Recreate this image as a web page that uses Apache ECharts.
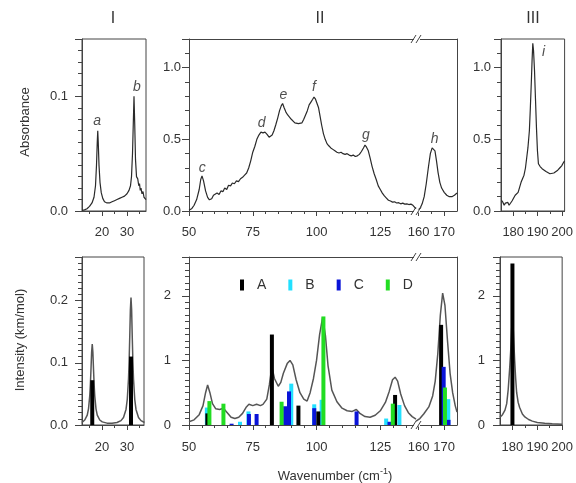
<!DOCTYPE html>
<html><head><meta charset="utf-8">
<script src="https://cdn.jsdelivr.net/npm/echarts@6/dist/echarts.min.js"></script>
<style>html,body{margin:0;padding:0;background:#fff}#c{width:576px;height:483px}</style>
</head><body><div id="c"></div>
<script>
// ---------- DATA ----------
// Experimental absorbance (top row)
const absI = [[12,0.0005],[13,0.001],[14,0.002],[15,0.004],[16,0.007],[16.8,0.012],[17.4,0.022],[17.8,0.04],[18.1,0.06],[18.3,0.07],[18.5,0.06],[18.8,0.04],[19.2,0.025],[19.7,0.016],[20.3,0.011],[21,0.008],[22,0.007],[23,0.007],[24,0.008],[25,0.009],[26,0.01],[27,0.011],[28,0.012],[29,0.013],[30,0.015],[30.8,0.018],[31.4,0.022],[31.8,0.03],[32.2,0.05],[32.5,0.075],[32.8,0.1],[33.1,0.075],[33.4,0.045],[33.8,0.03],[34.3,0.028],[34.7,0.022],[35,0.024],[35.3,0.018],[35.6,0.02],[36,0.015],[36.4,0.017],[36.8,0.012],[37.2,0.011],[37.6,0.01]];
const absIIlo = [[50,0.005],[51,0.015],[52,0.04],[53,0.08],[54,0.15],[54.6,0.22],[55.1,0.245],[55.7,0.21],[56.5,0.14],[57.3,0.095],[58,0.078],[58.9,0.085],[59.6,0.11],[60.3,0.1],[61,0.125],[61.8,0.115],[62.5,0.14],[63.3,0.135],[64,0.16],[64.8,0.15],[65.5,0.18],[66.3,0.175],[67,0.195],[67.8,0.19],[68.6,0.21],[69.4,0.205],[70.2,0.225],[71,0.235],[71.8,0.25],[72.6,0.265],[73.4,0.3],[74.2,0.35],[75,0.41],[75.8,0.45],[76.6,0.5],[77.4,0.53],[78.2,0.55],[79,0.545],[79.8,0.55],[80.6,0.535],[81.4,0.515],[82,0.51],[82.6,0.53],[83.3,0.56],[84,0.6],[84.8,0.65],[85.5,0.7],[86.2,0.735],[86.7,0.75],[87.3,0.72],[88,0.69],[88.7,0.67],[89.4,0.655],[90.1,0.64],[90.8,0.63],[91.5,0.615],[92.2,0.625],[92.9,0.61],[93.6,0.62],[94.3,0.615],[95,0.64],[95.7,0.67],[96.4,0.7],[97.1,0.74],[97.8,0.76],[98.5,0.78],[99,0.795],[99.6,0.78],[100.2,0.77],[100.8,0.72],[101.4,0.66],[102,0.6],[102.7,0.54],[103.4,0.5],[104.1,0.47],[104.8,0.455],[105.6,0.44],[106.4,0.43],[107.2,0.42],[108,0.41],[108.8,0.405],[109.6,0.41],[110.4,0.4],[111.2,0.395],[112,0.4],[112.8,0.39],[113.6,0.385],[114.4,0.39],[115.2,0.38],[116,0.385],[116.8,0.395],[117.6,0.415],[118.4,0.44],[119,0.46],[119.6,0.445],[120.3,0.42],[121,0.37],[121.8,0.31],[122.6,0.26],[123.4,0.22],[124.2,0.175],[125,0.15],[125.8,0.125],[126.6,0.105],[127.4,0.09],[128.2,0.075],[129,0.07],[129.8,0.062],[130.6,0.064],[131.4,0.056],[132.2,0.058],[133,0.05],[133.8,0.055],[134.6,0.048],[135.4,0.05],[136.2,0.045],[137,0.048],[137.8,0.04],[138.5,0.03],[139,0.015]];
const absIIhi = [[159,0.0],[159.8,0.005],[160.6,0.02],[161.4,0.05],[162.2,0.1],[163,0.19],[163.8,0.3],[164.6,0.4],[165.3,0.44],[165.8,0.45],[166.4,0.42],[167,0.35],[167.6,0.27],[168.3,0.2],[169,0.16],[170,0.13],[171,0.11],[172,0.1],[173,0.1],[174,0.11],[175,0.125]];
const absIII = [[175.2,0.075],[175.8,0.06],[176.3,0.04],[176.8,0.055],[177.3,0.045],[177.8,0.06],[178.3,0.04],[178.9,0.05],[179.5,0.07],[180.2,0.08],[180.8,0.11],[181.4,0.1],[182,0.13],[182.6,0.14],[183.2,0.2],[183.8,0.225],[184.4,0.25],[185,0.3],[185.5,0.37],[186,0.44],[186.6,0.56],[187,0.72],[187.4,0.9],[187.7,1.05],[188,1.17],[188.3,1.12],[188.7,0.98],[189.1,0.78],[189.5,0.58],[189.9,0.42],[190.3,0.33],[191,0.31],[191.8,0.295],[192.6,0.285],[193.4,0.275],[194.2,0.27],[195,0.26],[195.8,0.255],[196.6,0.265],[197.4,0.27],[198.2,0.285],[199,0.3],[199.8,0.315],[200.6,0.34],[201,0.35]];
// Calculated spectra (bottom row)
const calcI = [[12,0.004],[13.1,0.008],[14.1,0.016],[14.6,0.026],[15.1,0.047],[15.35,0.065],[15.6,0.09],[15.85,0.117],[16.1,0.13],[16.35,0.117],[16.6,0.09],[16.85,0.065],[17.1,0.047],[17.6,0.026],[18.1,0.016],[19.1,0.008],[20.1,0.005],[22,0.003],[24,0.003],[26,0.004],[27.6,0.007],[28.6,0.012],[29.6,0.025],[30.1,0.041],[30.6,0.074],[30.85,0.1025],[31.1,0.142],[31.35,0.185],[31.6,0.205],[31.85,0.185],[32.1,0.142],[32.35,0.1025],[32.6,0.074],[33.1,0.041],[33.6,0.025],[34.6,0.012],[35.6,0.007],[37,0.004]];
const calcIIlo = [[50,0.05],[52,0.08],[54,0.16],[55.5,0.3],[56.5,0.5],[57.3,0.62],[58.2,0.5],[59.2,0.33],[60.5,0.25],[62,0.24],[63.5,0.26],[65,0.19],[66.5,0.12],[68,0.1],[69.5,0.12],[71,0.18],[72.5,0.28],[73.5,0.32],[75,0.3],[76.5,0.32],[78,0.3],[79,0.32],[80.5,0.4],[81.5,0.62],[82.5,0.9],[83.5,0.72],[85,0.6],[86,0.66],[87,0.8],[88.5,0.95],[89.6,1.0],[90.7,0.93],[92,0.7],[93.5,0.5],[95,0.4],[96.3,0.37],[97.5,0.5],[98.8,0.72],[100,1.0],[101.2,1.4],[102.4,1.67],[103.5,1.38],[104.5,0.92],[106,0.54],[108,0.36],[110,0.26],[112,0.22],[114,0.21],[115.6,0.24],[117,0.18],[119,0.13],[121,0.12],[123,0.15],[125,0.22],[127,0.35],[128.5,0.52],[129.8,0.7],[130.8,0.74],[131.8,0.68],[133,0.48],[134.5,0.3],[136,0.19],[137.5,0.13],[139,0.09]];
const calcIIhi = [[159,0.06],[160.5,0.1],[162,0.17],[164,0.28],[165.5,0.45],[166.5,0.68],[167.5,1.1],[168.5,1.7],[169.4,2.04],[170.3,1.85],[171.3,1.3],[172.3,0.8],[173.3,0.5],[174.3,0.3],[175,0.2]];
const calcIII = [[175,0.12],[176,0.16],[177,0.23],[177.7,0.33],[178.3,0.55],[178.9,0.88],[179.3,1.15],[179.7,1.5],[180,1.65],[180.3,1.5],[180.6,1.25],[180.9,1.0],[181.3,0.72],[181.7,0.5],[182.3,0.35],[182.9,0.27],[184,0.17],[185,0.125],[186.5,0.085],[188,0.06],[190,0.04],[193,0.026],[196,0.018],[200,0.012]];
// Stick spectra: A, B, C, D
const A_I = [[16.1,0.072],[31.6,0.11]];
const A_IIlo = [[57.2,0.18],[82.5,1.4],[92.9,0.3],[100.7,0.21],[130.8,0.465]];
const A_IIhi = [[168.8,1.55]];
const A_III = [[180,2.5]];
const B_IIlo = [[57,0.27],[70,0.05],[73.3,0.21],[90.1,0.64],[99.1,0.32],[102,0.39],[127.3,0.1],[132.5,0.31]];
const B_IIhi = [[171.6,0.4]];
const C_IIlo = [[66.7,0.02],[73.5,0.17],[76.5,0.17],[87.7,0.29],[89.2,0.52],[99.1,0.26],[115.7,0.21],[128.6,0.05]];
const C_IIhi = [[169.8,0.9],[171.7,0.08]];
const D_IIlo = [[58,0.37],[63.5,0.33],[86.3,0.36],[102.7,1.68],[129.9,0.33]];
const D_IIhi = [[170.3,0.58]];
// Peak labels
const peaksI = [{value:[18.1,0.078],name:'a'},{value:[34,0.108],name:'b'}];
const peaksIIlo = [{value:[55.2,0.3],name:'c'},{value:[78.5,0.615],name:'d'},{value:[87,0.81],name:'e'},{value:[99,0.865],name:'f'},{value:[119.4,0.53],name:'g'}];
const peaksIIhi = [{value:[166.3,0.5],name:'h'}];
const peaksIII = [{value:[192.4,1.11],name:'i'}];
// Tick labels
const ticksI = [20,30], minorI = [15,25,35];
const ticksIIlo = [50,75,100,125], minorIIlo = [55,60,65,70,80,85,90,95,105,110,115,120,130,135];
const ticksIIhi = [160,170], minorIIhi = [165];
const ticksIII = [180,190,200], minorIII = [185,195];
const seriesNames = ['A','B','C','D'];
const seriesColors = {A:'#000000', B:'#22e0ff', C:'#0a14d8', D:'#22dd22'};

// ---------- BUILD ----------
const FONT = 'Liberation Sans, Arial, sans-serif';
const AX = '#444', TXT = '#333';
const grids = [], xAxis = [], yAxis = [], series = [];
function grid(l,t,w,h,border){grids.push({left:l,top:t,width:w,height:h,show:border,borderColor:AX,borderWidth:1,backgroundColor:'transparent'});return grids.length-1;}
function xAx(g,min,max,major,minor,margin){
  const i = xAxis.length;
  xAxis.push({type:'value',gridIndex:g,min,max,position:'bottom',
    axisLine:{show:true,onZero:false,lineStyle:{color:AX,width:1}},
    axisTick:{show:true,inside:false,length:5,customValues:major,lineStyle:{color:AX}},
    axisLabel:{show:true,customValues:major,margin,fontSize:13,color:TXT,fontFamily:FONT},
    splitLine:{show:false}});
  xAxis.push({type:'value',gridIndex:g,min,max,position:'bottom',
    axisLine:{show:false},axisTick:{show:true,inside:false,length:3,customValues:minor,lineStyle:{color:AX}},
    axisLabel:{show:false},splitLine:{show:false}});
  return i;
}
function xTop(g,min,max){xAxis.push({type:'value',gridIndex:g,min,max,position:'top',axisLine:{show:true,onZero:false,lineStyle:{color:AX}},axisTick:{show:false},axisLabel:{show:false},splitLine:{show:false}});}
function yAx(g,max,interval,split,margin,dec){
  const i = yAxis.length;
  yAxis.push({type:'value',gridIndex:g,min:0,max,interval,position:'left',
    axisLine:{show:true,onZero:false,lineStyle:{color:AX}},
    axisTick:{show:true,inside:false,length:7,lineStyle:{color:AX}},
    minorTick:{show:true,splitNumber:split,length:4,lineStyle:{color:AX}},
    axisLabel:{margin,fontSize:13,color:TXT,fontFamily:FONT,
      formatter:v=>{const r=v/interval;return Math.abs(r-Math.round(r))<1e-6?v.toFixed(dec):'';}},
    splitLine:{show:false},minorSplitLine:{show:false}});
  return i;
}
function yRight(g,max){const i=yAxis.length;yAxis.push({type:'value',gridIndex:g,min:0,max,position:'right',axisLine:{show:true,onZero:false,lineStyle:{color:AX}},axisTick:{show:false},axisLabel:{show:false},splitLine:{show:false}});return i;}
function line(xi,yi,data,color,w){series.push({type:'line',xAxisIndex:xi,yAxisIndex:yi,data,symbol:'none',smooth:false,lineStyle:{color,width:w},z:2,silent:true});}
function bar(name,xi,yi,data){series.push({type:'bar',name,xAxisIndex:xi,yAxisIndex:yi,data,barWidth:4,barGap:'-100%',itemStyle:{color:seriesColors[name]},z:3});}
function labels(xi,yi,data){series.push({type:'scatter',xAxisIndex:xi,yAxisIndex:yi,data,symbolSize:1,itemStyle:{color:'rgba(0,0,0,0)'},z:5,
  label:{show:true,position:'inside',formatter:p=>p.name,fontSize:14,fontStyle:'italic',color:'#222',fontFamily:FONT}});}

// Top row
let g = grid(82,39,64,172,true);
let xi = xAx(g,12,37.6,ticksI,minorI,15), yi = yAx(g,0.15,0.1,10,14,1);
line(xi,yi,absI,'#2a2a2a',1.2); labels(xi,yi,peaksI);

g = grid(189,39,227,172,false);
xi = xAx(g,50,139,ticksIIlo,minorIIlo,15); xTop(g,50,139); yi = yAx(g,1.2,0.5,5,8,1);
line(xi,yi,absIIlo,'#2a2a2a',1.2); labels(xi,yi,peaksIIlo);

g = grid(416,39,41,172,false);
xi = xAx(g,159,175,ticksIIhi,minorIIhi,15); xTop(g,159,175); yi = yRight(g,1.2);
line(xi,yi,absIIhi,'#2a2a2a',1.2); labels(xi,yi,peaksIIhi);

g = grid(501,39,65,172,true);
xi = xAx(g,175,201,ticksIII,minorIII,15); yi = yAx(g,1.2,0.5,5,10,1);
line(xi,yi,absIII,'#2a2a2a',1.2); labels(xi,yi,peaksIII);

// Bottom row
g = grid(82,257,62,168,true);
xi = xAx(g,12,36.8,ticksI,minorI,16); yi = yAx(g,0.27,0.1,10,14,1);
line(xi,yi,calcI,'#555',1.5); bar('A',xi,yi,A_I);

g = grid(189,257,227,168,false);
xi = xAx(g,50,139,ticksIIlo,minorIIlo,16); xTop(g,50,139); yi = yAx(g,2.6,1,10,18,0);
line(xi,yi,calcIIlo,'#555',1.5);
bar('B',xi,yi,B_IIlo); bar('C',xi,yi,C_IIlo); bar('A',xi,yi,A_IIlo); bar('D',xi,yi,D_IIlo);

g = grid(416,257,41,168,false);
xi = xAx(g,159,175,ticksIIhi,minorIIhi,16); xTop(g,159,175); yi = yRight(g,2.6);
line(xi,yi,calcIIhi,'#555',1.5);
bar('A',xi,yi,A_IIhi); bar('B',xi,yi,B_IIhi); bar('C',xi,yi,C_IIhi); bar('D',xi,yi,D_IIhi);

g = grid(500,257,63,168,true);
xi = xAx(g,175,200,ticksIII,minorIII,16); yi = yAx(g,2.6,1,10,15,0);
line(xi,yi,calcIII,'#555',1.5); bar('A',xi,yi,A_III);

// decorations: break marks
function brk(x,y){return [
  {type:'rect',shape:{x:x-3,y:y-1.5,width:6,height:3},style:{fill:'#fff'},z:100},
  {type:'line',shape:{x1:x-6,y1:y+4,x2:x-1,y2:y-4},style:{stroke:AX,lineWidth:1},z:101},
  {type:'line',shape:{x1:x-1,y1:y+4,x2:x+4,y2:y-4},style:{stroke:AX,lineWidth:1},z:101}];}
function txt(t,x,y,size,rot,extra){return Object.assign({type:'text',x,y,rotation:rot||0,z:50,
  style:{text:t,fontSize:size,fontFamily:FONT,fill:TXT,align:'center',verticalAlign:'middle'}},extra||{});}
const graphic = [].concat(
  brk(417,39), brk(417,211), brk(417,257), brk(417,425),
  [txt('I',113,19,16), txt('II',320,19,16), txt('III',533,19,16),
   txt('Absorbance',25,122,13,Math.PI/2), txt('Intensity (km/mol)',20,340,13,Math.PI/2),
   {type:'text',x:335,y:476,z:50,style:{text:'Wavenumber (cm{sup|-1})',fontSize:13,fontFamily:FONT,fill:TXT,align:'center',verticalAlign:'middle',
     rich:{sup:{fontSize:9,fontFamily:FONT,fill:TXT,padding:[0,0,8,0]}}}}]
);

const chart = echarts.init(document.getElementById('c'),null,{renderer:'canvas'});
chart.setOption({
  animation:false, backgroundColor:'#fff',
  grid:grids, xAxis, yAxis, series, graphic,
  legend:{data:seriesNames, left:240, top:278, padding:0, itemWidth:4, itemHeight:11, itemGap:22, icon:'rect',
    selectedMode:false, textStyle:{fontSize:14,color:TXT,fontFamily:FONT,padding:[0,0,0,8]}}
});
</script></body></html>
